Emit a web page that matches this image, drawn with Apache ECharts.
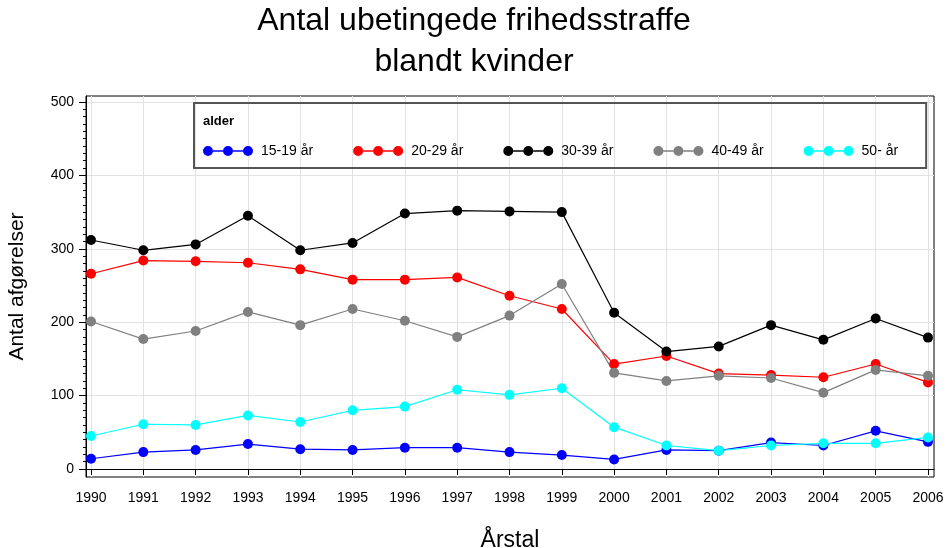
<!DOCTYPE html>
<html>
<head>
<meta charset="utf-8">
<script src="https://cdn.jsdelivr.net/npm/echarts@6/dist/echarts.min.js"></script>
<style>html,body{margin:0;padding:0;background:#fff}#c{width:948px;height:548px}</style>
</head>
<body>
<div id="c"></div>
<script>
const years = [1990,1991,1992,1993,1994,1995,1996,1997,1998,1999,2000,2001,2002,2003,2004,2005,2006];
const seriesNames = ['15-19 år','20-29 år','30-39 år','40-49 år','50- år'];
const v15_19 = [14,23,26,34,27,26,29,29,23,19,13,26,25,36,32,52,37];
const v20_29 = [266,284,283,281,272,258,258,261,236,218,143,154,130,128,125,143,118];
const v30_39 = [312,298,306,345,298,308,348,352,351,350,213,160,167,196,176,205,179];
const v40_49 = [201,177,188,214,196,218,202,180,209,252,131,120,127,124,104,135,127];
const v50 = [45,61,60,73,64,80,85,108,101,110,57,32,25,32,35,35,43];
const yTicks = [0,100,200,300,400,500];
const colors = ['#0000ff','#ff0000','#000000','#808080','#00ffff'];

const allValues = [v15_19, v20_29, v30_39, v40_49, v50];
const minorTicks = [];
for (let t = 10; t < 500; t += 10) if (t % 100 !== 0) minorTicks.push(t);

const FONT = '"Liberation Sans", Arial, sans-serif';
const icon = 'path://M0,5A5,5,0,1,1,10,5A5,5,0,1,1,0,5Z M20,5A5,5,0,1,1,30,5A5,5,0,1,1,20,5Z M40,5A5,5,0,1,1,50,5A5,5,0,1,1,40,5Z M10,4.3L20,4.3L20,5.7L10,5.7Z M30,4.3L40,4.3L40,5.7L30,5.7Z';

const chart = echarts.init(document.getElementById('c'));
chart.setOption({
  animation: false,
  textStyle: {fontFamily: FONT},
  title: [
    {text: 'Antal ubetingede frihedsstraffe\nblandt kvinder', left: 'center', top: 1, padding: 0,
     textStyle: {fontSize: 32, lineHeight: 41, fontWeight: 'normal', color: '#000', fontFamily: FONT}},
    {text: 'alder', left: 203, top: 115, padding: 0,
     textStyle: {fontSize: 13, fontWeight: 'bold', color: '#000', fontFamily: FONT}}
  ],
  legend: {
    left: 194, top: 103,
    padding: [41, 28, 10, 9],
    borderColor: '#555', borderWidth: 2,
    itemWidth: 50, itemHeight: 10, itemGap: 40,
    icon: icon,
    formatter: '{t|{name}}',
    textStyle: {fontSize: 14, color: '#000', fontFamily: FONT,
      rich: {t: {padding: [0,0,0,3], fontSize: 14, color: '#000', fontFamily: FONT}}},
    data: seriesNames
  },
  grid: {left: 86, right: 14, top: 96, bottom: 71, show: true, borderColor: '#000', borderWidth: 1,
         containLabel: false, outerBoundsMode: 'none'},
  xAxis: {
    type: 'value', min: 1989.904, max: 2006.115,
    name: 'Årstal', nameLocation: 'middle', nameGap: 52,
    nameTextStyle: {fontSize: 23, color: '#000', fontFamily: FONT},
    axisLine: {lineStyle: {color: '#000', width: 1}},
    axisTick: {customValues: years, length: 6, lineStyle: {color: '#000'}},
    axisLabel: {customValues: years, formatter: v => String(v), fontSize: 14, color: '#000', margin: 14},
    splitLine: {show: true, lineStyle: {color: '#e2e2e2', width: 1}}
  },
  yAxis: [
    {
      type: 'value', min: -10.9, max: 508.2,
      name: 'Antal afgørelser', nameLocation: 'middle', nameGap: 58, nameRotate: 90,
      nameTextStyle: {fontSize: 21, color: '#000', fontFamily: FONT},
      axisLine: {show: true, lineStyle: {color: '#000', width: 1}},
      axisTick: {customValues: yTicks, length: 7, lineStyle: {color: '#000'}},
      axisLabel: {customValues: yTicks, fontSize: 14, color: '#000', margin: 12},
      splitLine: {show: true, lineStyle: {color: '#e2e2e2', width: 1}}
    },
    {
      type: 'value', min: -10.9, max: 508.2, position: 'left',
      axisLine: {show: false},
      axisTick: {show: true, customValues: minorTicks, length: 3, lineStyle: {color: '#000'}},
      axisLabel: {show: false},
      splitLine: {show: false}
    }
  ],
  series: seriesNames.map((n, i) => ({
    name: n, type: 'line', yAxisIndex: 0,
    data: years.map((y, j) => [y, allValues[i][j]]),
    symbol: 'circle', symbolSize: 10,
    itemStyle: {color: colors[i]},
    lineStyle: {color: colors[i], width: 1.2},
    emphasis: {disabled: true}
  }))
});
</script>
</body>
</html>
